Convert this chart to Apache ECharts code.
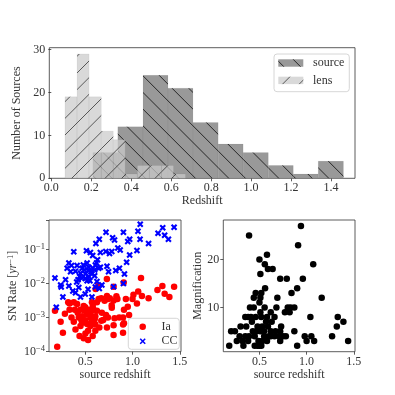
<!DOCTYPE html>
<html><head><meta charset="utf-8">
<script src="https://cdn.jsdelivr.net/npm/echarts@6/dist/echarts.min.js"></script>
<style>html,body{margin:0;padding:0;background:#fff}#c{width:395px;height:395px}</style>
</head><body><div id="c"></div>
<script>
// ---------- DATA ----------
const sourceEdges = [0.208, 0.333, 0.459, 0.584, 0.709, 0.835, 0.960, 1.086, 1.211, 1.336, 1.462];
const sourceCounts = [6, 12, 24, 21, 13, 8, 6, 3, 1, 4];
const lensEdges = [0.0685, 0.129, 0.189, 0.250, 0.310, 0.370, 0.431, 0.491, 0.552, 0.612, 0.672];
const lensCounts = [19, 29, 19, 11, 9, 1, 3, 3, 3, 1];
const histXTicks = [0.0, 0.2, 0.4, 0.6, 0.8, 1.0, 1.2, 1.4];
const histYTicks = [0, 10, 20, 30];

const iaZ = [0.204,0.264,0.24,0.285,0.32,0.334,0.379,0.39,0.355,0.379,0.397,0.45,0.44,0.484,0.53,0.53,0.502,0.432,0.467,0.495,0.52,0.555,0.571,0.502,0.467,0.555,0.607,0.607,0.624,0.589,0.537,0.484,0.45,0.607,0.579,0.649,0.67,0.676,0.624,0.642,0.67,0.705,0.74,0.74,0.781,0.80,0.73,0.414,0.334,0.571,0.18,0.729,0.64,0.61,1.316,1.264,1.34,1.44,1.39,1.17,1.09,1.06,1.10,1.01,1.00,0.93,0.91,0.90,0.91,0.90,0.86,0.81,0.80,0.84,0.83,0.80,0.76,0.78,0.73,0.72,0.69,0.907,0.80,0.95,0.964,1.047,0.90,0.55,0.50,0.58,0.46,0.52,0.60,0.42,0.56];
const iaRate = [1.4e-4,3.6e-4,7.6e-4,1.3e-3,2.8e-3,1.7e-3,2.8e-3,1.7e-3,1.0e-3,7.6e-4,4.5e-4,5.7e-4,2.9e-4,2.5e-4,2.2e-4,4.1e-4,3.4e-4,1.0e-3,1.1e-3,1.6e-3,1.26e-3,1.0e-3,7.9e-4,8.3e-4,7.1e-4,5.7e-4,6.3e-4,1.1e-3,1.6e-3,1.7e-3,1.7e-3,2.2e-3,1.7e-3,4.1e-4,2.9e-4,5.1e-4,8.1e-4,1.4e-3,2.8e-3,3.5e-3,3.7e-3,3.1e-3,3.5e-3,1.0e-3,1.96e-3,6.0e-4,5.1e-4,2.5e-3,2.6e-3,2.8e-3,1.6e-3,0.0135,0.0087,0.0069,0.0085,0.0065,0.0050,0.0081,0.0040,0.0037,0.0145,0.0058,0.0043,0.0047,0.0035,0.0035,0.0017,0.0010,6.8e-4,3.6e-4,1.0e-3,9.5e-4,3.1e-4,0.0035,0.0042,0.0032,0.0037,0.0023,0.0043,0.0012,8.5e-4,0.0108,0.0081,0.0021,0.0012,0.0026,6.3e-4,1.3e-3,2.0e-3,2.2e-3,8.5e-4,6.5e-4,9.0e-4,1.4e-3,1.5e-3];

const ccZ = [0.72,0.904,1.082,1.44,1.32,1.058,1.27,1.34,1.38,0.97,0.95,1.08,1.17,0.81,0.845,0.87,0.97,1.047,0.938,0.862,0.823,0.915,0.904,0.79,0.649,0.613,0.379,0.513,0.555,0.579,0.66,0.718,0.757,0.781,0.327,0.355,0.414,0.467,0.537,0.607,0.642,0.73,0.747,0.309,0.345,0.397,0.45,0.502,0.537,0.571,0.467,0.424,0.18,0.292,0.52,0.624,0.676,0.24,0.246,0.264,0.194,0.369,0.397,0.45,0.50,0.53,0.571,0.607,0.649,0.432,0.327,0.80,0.49,0.56,0.60,0.52,0.48,0.58,0.63,0.55,0.62,0.66,0.44,0.50,0.41,0.60,0.53];
const ccRate = [0.32,0.32,0.55,0.45,0.43,0.34,0.30,0.26,0.20,0.20,0.17,0.20,0.15,0.19,0.11,0.097,0.069,0.093,0.042,0.028,0.024,0.019,0.010,0.22,0.20,0.15,0.085,0.091,0.081,0.066,0.081,0.087,0.076,0.087,0.040,0.034,0.034,0.028,0.030,0.035,0.028,0.032,0.022,0.028,0.022,0.023,0.020,0.019,0.016,0.019,0.0145,0.013,0.0145,0.013,0.012,0.0115,0.0091,0.0091,0.0079,0.0040,0.0020,0.0060,0.0054,0.0040,0.0049,0.0068,0.0040,0.0079,0.0072,0.0076,0.0085,0.0081,0.025,0.022,0.025,0.040,0.035,0.028,0.050,0.012,0.040,0.030,0.016,0.014,0.011,0.017,0.024];

const magZ = [0.39,0.50,0.58,0.557,0.51,0.59,0.64,0.56,0.46,0.52,0.44,0.51,0.50,0.40,0.44,0.51,0.35,0.38,0.46,0.52,0.58,0.62,0.66,0.42,0.57,0.30,0.53,0.59,0.20,0.24,0.43,0.51,0.55,0.62,0.29,0.35,0.39,0.45,0.55,0.62,0.66,0.26,0.32,0.38,0.49,0.53,0.18,0.33,0.48,0.50,0.52,0.69,0.68,0.72,0.79,0.73,0.72,0.71,0.72,0.75,0.78,0.80,0.77,0.82,0.83,0.87,0.84,0.90,0.87,0.90,0.91,0.94,0.96,0.98,1.00,1.04,1.05,1.08,1.07,1.16,1.27,1.32,1.33,1.39,1.44,0.36,0.45,0.47,0.58,0.60,0.41,0.63,0.555,0.48,0.67];
const magVal = [25,20,21,19,17,18,18,14,13,13,12,12,11,10,10,9,8,8,8,8,8,9,8,7,7,6,6,6,5,5,5,5,5,5,4,4,4,4,4,4,4,3,3,3,3,3,2,2,2,2,2,12,10,16,16,6,5,4,3,4,4,10,9,9,10,10,13,14,5,2,23,27,16,4,3,8,4,3,19,12,4,6,8,7,3,6,2,5,3,4,8,7,10,6,5];

const zTicks = [0.5, 1.0, 1.5];
const magTicks = [10, 20];

// ---------- STYLE ----------
const FONT = "'Liberation Serif','DejaVu Serif',serif";
const TXT = '#333';
const AX = '#333';

function makeHatch(dir, color, phase) {
  const c = document.createElement('canvas');
  c.width = 100; c.height = 100;
  const ctx = c.getContext('2d');
  ctx.strokeStyle = color; ctx.lineWidth = 1;
  const s = 100 / 6;
  for (let k = -16; k <= 22; k++) {
    const o = phase + k * s;
    ctx.beginPath();
    if (dir === 'back') { ctx.moveTo(-5, o - 5); ctx.lineTo(105, o + 105); }
    else { ctx.moveTo(-5, o + 5); ctx.lineTo(105, o - 105); }
    ctx.stroke();
  }
  return c;
}
const hatchSource = makeHatch('back', 'rgba(0,0,0,0.75)', -0.5);
const hatchLens = makeHatch('fwd', 'rgba(0,0,0,0.6)', 0);
const sourceFill = 'rgb(153,153,153)';
const lensFill = 'rgba(202,202,202,0.72)';

function histData(edges, counts) {
  return counts.map((c, i) => [edges[i], edges[i + 1], c]);
}
function histRender(fill, hatch) {
  return function (params, api) {
    const p0 = api.coord([api.value(0), 0]);
    const p1 = api.coord([api.value(1), api.value(2)]);
    const r = { x: p0[0], y: p1[1], width: p1[0] - p0[0], height: p0[1] - p1[1] };
    return { type: 'group', children: [
      { type: 'rect', shape: r, style: { fill: fill } },
      { type: 'rect', shape: r, style: { fill: { image: hatch, repeat: 'repeat' } } },
      { type: 'rect', shape: r, style: { fill: 'none', stroke: 'rgba(0,0,0,0.08)', lineWidth: 0.6 } }
    ] };
  };
}

const xMarker = 'path://M0,2.3 L2.3,0 L10,7.7 L7.7,10 Z M7.7,0 L10,2.3 L2.3,10 L0,7.7 Z';

function baseAxis(extra) {
  return Object.assign({
    splitLine: { show: false },
    axisLine: { show: false },
    axisTick: { show: true, inside: false, length: 3, lineStyle: { color: AX, width: 0.8 } },
    axisLabel: { color: TXT, fontFamily: FONT, fontSize: 12 },
    nameTextStyle: { color: TXT, fontFamily: FONT, fontSize: 12 },
    nameLocation: 'middle'
  }, extra);
}

const gridBase = { show: true, borderColor: AX, borderWidth: 0.8, backgroundColor: 'transparent', containLabel: false };

const logFmt = function (v) {
  const l = Math.log10(v), e = Math.round(l);
  if (Math.abs(l - e) > 1e-6) return '';
  return '10{sup|' + (e < 0 ? '\u2212' : '') + Math.abs(e) + '}';
};

const chart = echarts.init(document.getElementById('c'), null, { renderer: 'canvas' });
chart.setOption({
  animation: false,
  backgroundColor: '#fff',
  grid: [
    Object.assign({ left: 49.3, top: 47.7, width: 305.7, height: 130.6 }, gridBase),
    Object.assign({ left: 49, top: 220, width: 132, height: 131.7 }, gridBase),
    Object.assign({ left: 223.3, top: 220, width: 131.7, height: 131.7 }, gridBase)
  ],
  xAxis: [
    baseAxis({ gridIndex: 0, type: 'value', min: -0.01, max: 1.52, name: 'Redshift', nameGap: 17,
      axisTick: { show: true, length: 3, lineStyle: { color: AX, width: 0.8 }, customValues: histXTicks },
      axisLabel: { color: TXT, fontFamily: FONT, fontSize: 12, margin: 4, customValues: histXTicks, formatter: v => v.toFixed(1) } }),
    baseAxis({ gridIndex: 1, type: 'value', min: 0.117, max: 1.513, name: 'source redshift', nameGap: 16,
      axisTick: { show: true, length: 3, lineStyle: { color: AX, width: 0.8 }, customValues: zTicks },
      axisLabel: { color: TXT, fontFamily: FONT, fontSize: 12, margin: 4, customValues: zTicks, formatter: v => v.toFixed(1) } }),
    baseAxis({ gridIndex: 2, type: 'value', min: 0.117, max: 1.513, name: 'source redshift', nameGap: 16,
      axisTick: { show: true, length: 3, lineStyle: { color: AX, width: 0.8 }, customValues: zTicks },
      axisLabel: { color: TXT, fontFamily: FONT, fontSize: 12, margin: 4, customValues: zTicks, formatter: v => v.toFixed(1) } })
  ],
  yAxis: [
    baseAxis({ gridIndex: 0, type: 'value', min: 0, max: 30.45, name: 'Number of Sources', nameGap: 19,
      axisTick: { show: true, length: 3, lineStyle: { color: AX, width: 0.8 }, customValues: histYTicks },
      axisLabel: { color: TXT, fontFamily: FONT, fontSize: 12, margin: 4, customValues: histYTicks } }),
    baseAxis({ gridIndex: 1, type: 'log', logBase: 10, min: 1e-4, max: 0.73, name: 'SN Rate [{it|yr}{sup|\u22121}]', nameGap: 29,
      nameTextStyle: { color: TXT, fontFamily: FONT, fontSize: 12,
        rich: { it: { fontStyle: 'italic', fontFamily: FONT, fontSize: 12, color: TXT },
                sup: { fontSize: 8.5, fontFamily: FONT, color: TXT, verticalAlign: 'top', padding: [0, 0, 5, 0] } } },
      axisLabel: { color: TXT, fontFamily: FONT, fontSize: 12, margin: 4, formatter: logFmt,
        rich: { sup: { fontSize: 8.5, fontFamily: FONT, color: TXT, verticalAlign: 'top', padding: [0, 0, 6, 0] } } } }),
    baseAxis({ gridIndex: 2, type: 'value', min: 0.75, max: 28.25, name: 'Magnification', nameGap: 18,
      axisTick: { show: true, length: 3, lineStyle: { color: AX, width: 0.8 }, customValues: magTicks },
      axisLabel: { color: TXT, fontFamily: FONT, fontSize: 12, margin: 4, customValues: magTicks } })
  ],
  series: [
    { type: 'custom', name: 'source', xAxisIndex: 0, yAxisIndex: 0, silent: true,
      data: histData(sourceEdges, sourceCounts), encode: { x: [0, 1], y: 2 },
      renderItem: histRender(sourceFill, hatchSource) },
    { type: 'custom', name: 'lens', xAxisIndex: 0, yAxisIndex: 0, silent: true,
      data: histData(lensEdges, lensCounts), encode: { x: [0, 1], y: 2 },
      renderItem: histRender(lensFill, hatchLens) },
    { type: 'scatter', name: 'Ia', xAxisIndex: 1, yAxisIndex: 1, silent: true,
      data: iaZ.map((z, i) => [z, iaRate[i]]), symbol: 'circle', symbolSize: 6.5,
      itemStyle: { color: '#ff0000', opacity: 1 } },
    { type: 'scatter', name: 'CC', xAxisIndex: 1, yAxisIndex: 1, silent: true,
      data: ccZ.map((z, i) => [z, ccRate[i]]), symbol: xMarker, symbolSize: 6.5,
      itemStyle: { color: '#0000ff', opacity: 1 } },
    { type: 'scatter', name: 'magnification', xAxisIndex: 2, yAxisIndex: 2, silent: true,
      data: magZ.map((z, i) => [z, magVal[i]]), symbol: 'circle', symbolSize: 6.5,
      itemStyle: { color: '#000', opacity: 1 } }
  ],
  graphic: [
    // top legend
    { type: 'rect', shape: { x: 274, y: 54, width: 75.3, height: 37.7, r: 3 }, style: { fill: 'rgba(255,255,255,0.8)', stroke: '#cccccc', lineWidth: 0.8 }, z: 100 },
    { type: 'rect', shape: { x: 278.3, y: 59.3, width: 25, height: 7.4 }, style: { fill: sourceFill }, z: 101 },
    { type: 'rect', shape: { x: 278.3, y: 59.3, width: 25, height: 7.4 }, style: { fill: { image: hatchSource, repeat: 'repeat' } }, z: 102 },
    { type: 'text', x: 313, y: 63.3, style: { text: 'source', fill: TXT, font: '12px ' + FONT, verticalAlign: 'middle', align: 'left' }, z: 103 },
    { type: 'rect', shape: { x: 278.3, y: 76.7, width: 25, height: 7.4 }, style: { fill: lensFill }, z: 101 },
    { type: 'rect', shape: { x: 278.3, y: 76.7, width: 25, height: 7.4 }, style: { fill: { image: hatchLens, repeat: 'repeat' } }, z: 102 },
    { type: 'text', x: 313, y: 80.7, style: { text: 'lens', fill: TXT, font: '12px ' + FONT, verticalAlign: 'middle', align: 'left' }, z: 103 },
    // bottom-left legend
    { type: 'rect', shape: { x: 128.3, y: 318.3, width: 51, height: 31, r: 3 }, style: { fill: 'rgba(255,255,255,0.8)', stroke: '#cccccc', lineWidth: 0.8 }, z: 100 },
    { type: 'circle', shape: { cx: 142.7, cy: 326.7, r: 3.25 }, style: { fill: '#ff0000' }, z: 101 },
    { type: 'text', x: 161.5, y: 326.7, style: { text: 'Ia', fill: TXT, font: '12px ' + FONT, verticalAlign: 'middle', align: 'left' }, z: 103 },
    { type: 'line', shape: { x1: 140.2, y1: 338.8, x2: 145.2, y2: 343.8 }, style: { stroke: '#0000ff', lineWidth: 1.5 }, z: 101 },
    { type: 'line', shape: { x1: 145.2, y1: 338.8, x2: 140.2, y2: 343.8 }, style: { stroke: '#0000ff', lineWidth: 1.5 }, z: 101 },
    { type: 'text', x: 161.5, y: 341.3, style: { text: 'CC', fill: TXT, font: '12px ' + FONT, verticalAlign: 'middle', align: 'left' }, z: 103 }
  ]
});
</script>
</body></html>
